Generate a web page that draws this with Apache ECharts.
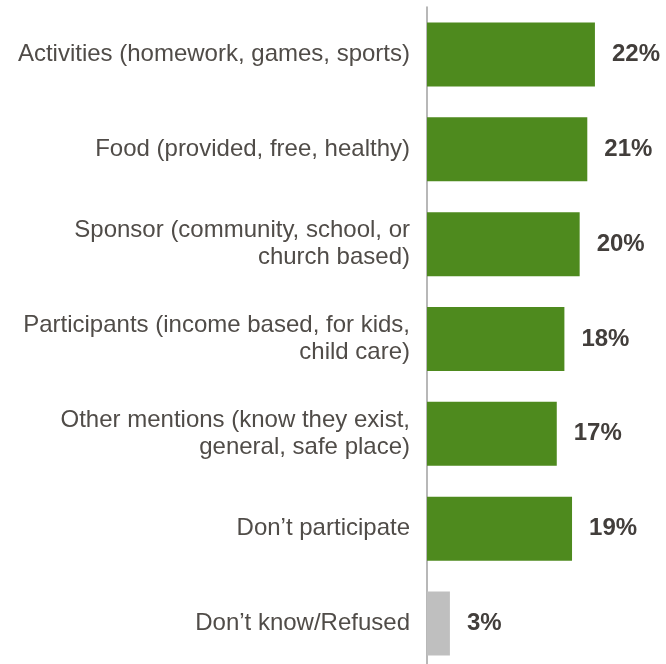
<!DOCTYPE html>
<html>
<head>
<meta charset="utf-8">
<script src="https://cdn.jsdelivr.net/npm/echarts@6/dist/echarts.min.js"></script>
<style>
  html, body { margin: 0; padding: 0; background: #fff; }
  #chart { width: 666px; height: 664px; }
</style>
</head>
<body>
<div id="chart"></div>
<script>
// Reasons mentioned, top to bottom
const categories = [
  'Activities (homework, games, sports)',
  'Food (provided, free, healthy)',
  'Sponsor (community, school, or\nchurch based)',
  'Participants (income based, for kids,\nchild care)',
  'Other mentions (know they exist,\ngeneral, safe place)',
  'Don\u2019t participate',
  'Don\u2019t know/Refused'
];
// Percent of respondents
const values = [22, 21, 20, 18, 17, 19, 3];
const barColors = ['#4E8A1E', '#4E8A1E', '#4E8A1E', '#4E8A1E', '#4E8A1E', '#4E8A1E', '#BFBFBF'];

const chart = echarts.init(document.getElementById('chart'));
chart.setOption({
  animation: false,
  grid: {
    left: 427, right: 10, top: 7, height: 664,
    containLabel: false,
    outerBoundsMode: 'none'
  },
  xAxis: {
    type: 'value', min: 0, max: 30,
    show: false
  },
  yAxis: {
    type: 'category',
    data: categories,
    inverse: true,
    axisLine: { show: true, lineStyle: { color: '#A0A0A0', width: 1.5 } },
    axisTick: { show: false },
    axisLabel: {
      margin: 17,
      align: 'right',
      color: '#504C48',
      fontFamily: '"Liberation Sans", Arial, sans-serif',
      fontSize: 24,
      lineHeight: 27
    }
  },
  series: [{
    type: 'bar',
    barWidth: 64,
    data: values.map((v, i) => ({ value: v, itemStyle: { color: barColors[i] } })),
    label: {
      show: true,
      position: 'right',
      distance: 17,
      formatter: '{c}%',
      color: '#423E3B',
      fontFamily: '"Liberation Sans", Arial, sans-serif',
      fontWeight: 'bold',
      fontSize: 24
    }
  }]
});
</script>
</body>
</html>
